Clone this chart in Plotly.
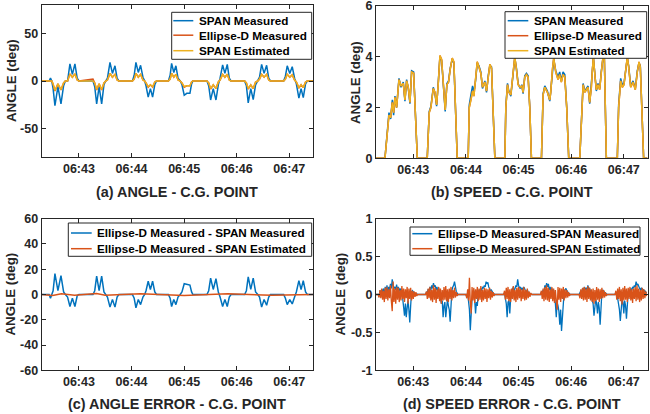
import pandas as pd
import plotly.graph_objects as go

# ---------------- data (time in seconds after 06:42:00) ----------------
X_RANGE = [137.5, 447.0]
X_TICKS = [180, 240, 300, 360, 420]
X_TICKTEXT = ["06:43", "06:44", "06:45", "06:46", "06:47"]

# (a) ANGLE
ang_t = [137.5, 146.0, 147.5, 149.0,
         150.5, 152.6, 156.0, 159.5, 162.5, 164.5, 167.0, 169.7, 172.5, 175.4, 178.0, 180.0,
         196.0, 198.0, 200.2, 203.0, 205.9, 208.5, 210.5, 212.5, 215.4, 218.2, 221.1, 223.5, 225.5,
         241.0, 243.0, 245.0, 247.7, 250.3, 253.0, 255.0, 256.5, 259.0, 261.5, 264.0, 266.5, 268.5,
         282.0, 284.0, 285.7, 288.2, 290.6, 293.0, 295.5, 297.5, 300.1, 303.0, 306.6, 308.5, 310.0,
         326.0, 328.0, 330.2, 333.2, 336.3, 339.0, 341.0, 343.9, 346.5, 349.2, 351.5, 353.5,
         369.0, 371.0, 373.1, 376.0, 378.8, 381.5, 384.0, 386.0, 388.4, 391.2, 394.1, 396.5, 398.5,
         413.5, 415.5, 417.6, 420.5, 423.3, 426.0, 428.0, 430.9, 433.4, 435.9, 438.5, 440.5,
         447.0]
ang_span_meas = [0, 0, 3, 0,
                 -8, -26, -6, -24, -5, 0, 0, 18, 7, 18, 3, 0,
                 0, -6, -24, -6, -24, -4, 0, 3, 19.5, 8, 16, 3, 0,
                 0, 6, 19.5, 9, 16.5, 4, 0, -5, -17, -8, -17, -4, 0,
                 0, 6, 18.5, 9, 16, 3, 0, -4, -15, -13, -13, -3, 0,
                 0, -5, -20, -8, -20, -4, 3, 17, 8, 17.5, 3, 0,
                 0, -5, -23, -8, -19.5, -4, 0, 4, 17.5, 8, 16.5, 3, 0,
                 0, 5, 16, 8, 15, 3, -3, -18, -8, -17.5, -3, 0,
                 0]
ang_ellipse_meas = [0, 0, 0, 0,
                    -3.5, -10.5, -3, -9.5, -2, 0, 0, 7.5, 4, 7.5, 1, 0,
                    2, -2, -9.5, -3, -9.5, -2, 0, 1, 8, 4, 7, 1, 0,
                    0, 2, 8, 4, 7, 1, 0, -2, -6.5, -4, -6.5, -1, 0,
                    0, 2, 8, 4, 7, 1, 0, -2, -6.5, -5, -5, -1, 0,
                    0, -2, -8.5, -4, -8, -1, 1, 7, 4, 7, 1, 0,
                    0, -2, -8.5, -4, -8, -1, 0, 2, 7, 4, 7, 1, 0,
                    0, 2, 7, 4, 6.5, 1, -1, -7.5, -4, -7, -1, 0,
                    0]
ang_span_est = [0, 0, 0.5, 0,
                -3, -10, -3, -9, -2, 0, 0, 7, 4, 7.5, 1, 0,
                0, -2, -9, -3, -9, -2, 0, 1, 8, 4, 7, 1, 0,
                0, 2, 8, 4, 7, 1, 0, -2, -6, -4, -6, -1, 0,
                0, 2, 8, 4, 7, 1, 0, -2, -6, -5, -5, -1, 0,
                0, -2, -8, -4, -8, -1, 1, 7, 4, 7, 1, 0,
                0, -2, -8, -4, -8, -1, 0, 2, 7, 4, 7, 1, 0,
                0, 2, 7, 4, 6.5, 1, -1, -7, -4, -7, -1, 0,
                0]

# (b) SPEED
spd_t = [137.5, 147.7, 152.3, 154.2, 156.1, 157.6, 159.1, 161.0, 163.7, 166.0, 168.6, 170.5, 172.4, 174.3, 176.2, 178.1, 180.4, 181.9, 184.6,
         195.9, 198.2, 200.1, 202.8, 204.7, 206.6, 208.5, 210.4, 212.3, 213.8, 215.3, 216.4, 218.3, 220.2, 222.1, 224.4, 226.3, 228.2, 230.1,
         242.6, 243.8, 245.7, 247.6, 249.1, 251.0, 252.9, 254.8, 257.0, 258.9, 261.6, 263.5, 265.4, 267.3, 269.2, 271.1, 273.0,
         284.4, 285.5, 287.4, 288.9, 291.2, 293.9, 295.7, 297.6, 299.5, 301.8, 303.7, 305.2, 307.1, 309.0, 310.9, 312.8, 314.7,
         326.1, 328.0, 329.9, 332.9, 335.6, 336.7, 338.6, 340.1, 342.4, 345.0, 346.9, 348.8, 350.7, 352.7, 354.9, 357.2,
         369.8, 371.7, 373.6, 375.5, 377.3, 379.2, 381.1, 383.0, 384.2, 385.3, 387.2, 388.7, 390.6, 392.5, 394.4, 396.3, 397.8, 398.9, 400.1,
         412.6, 414.1, 416.4, 418.3, 420.2, 422.1, 424.0, 425.5, 427.8, 430.5, 433.1, 435.4, 437.3, 438.8, 440.7, 442.6, 447.0]
spd_span_meas = [0, 0, 1.8, 1.55, 2.3, 1.7, 2.45, 2.0, 3.15, 2.8, 3.0, 2.25, 3.1, 2.75, 2.15, 3.45, 3.4, 2.0, 0,
                 0, 1.85, 2.05, 2.8, 2.55, 2.05, 3.0, 4.0, 3.85, 2.95, 2.35, 1.85, 2.95, 3.05, 3.55, 3.9, 3.75, 2.0, 0,
                 0, 2.1, 2.5, 2.85, 2.6, 3.05, 3.75, 3.65, 3.4, 2.75, 3.05, 2.6, 3.25, 3.65, 3.6, 2.0, 0,
                 0, 2.05, 2.95, 2.65, 2.45, 3.45, 3.95, 3.55, 2.95, 2.75, 2.9, 2.55, 3.25, 3.35, 3.25, 2.0, 0,
                 0, 2.55, 2.85, 2.65, 2.25, 2.65, 3.45, 3.9, 3.45, 3.2, 3.4, 3.05, 3.4, 3.3, 2.0, 0,
                 0, 1.85, 2.95, 2.65, 2.75, 2.85, 2.15, 2.85, 3.45, 3.95, 3.25, 2.65, 2.95, 2.75, 3.45, 3.95, 3.95, 2.0, 0,
                 0, 2.1, 3.15, 2.9, 2.95, 3.45, 3.95, 3.65, 2.85, 3.05, 2.75, 3.45, 3.75, 3.65, 2.0, 0, 0]
spd_ellipse_meas = [0, 0, 1.7, 1.6, 2.2, 1.8, 2.4, 2.0, 3.1, 2.85, 2.95, 2.3, 3.05, 2.8, 2.2, 3.4, 3.35, 2.0, 0,
                    0, 1.8, 2.0, 2.75, 2.6, 2.1, 2.95, 4.05, 3.9, 3.0, 2.4, 1.9, 2.9, 3.0, 3.5, 3.95, 3.8, 2.0, 0,
                    0, 2.0, 2.3, 2.65, 2.45, 3.0, 3.8, 3.6, 3.35, 2.8, 3.0, 2.65, 3.2, 3.7, 3.55, 2.0, 0,
                    0, 2.0, 2.9, 2.6, 2.5, 3.5, 4.0, 3.5, 2.9, 2.8, 2.85, 2.6, 3.2, 3.3, 3.2, 2.0, 0,
                    0, 2.5, 2.8, 2.6, 2.3, 2.6, 3.5, 3.95, 3.4, 3.1, 3.3, 3.0, 3.3, 3.2, 2.0, 0,
                    0, 1.8, 2.9, 2.6, 2.7, 2.8, 2.2, 2.8, 3.5, 4.0, 3.2, 2.7, 2.9, 2.7, 3.4, 4.0, 4.0, 2.0, 0,
                    0, 2.0, 3.05, 2.8, 2.9, 3.5, 4.0, 3.6, 2.8, 3.0, 2.7, 3.4, 3.8, 3.6, 2.0, 0, 0]
spd_span_est = [0, 0, 1.7, 1.6, 2.2, 1.8, 2.4, 2.0, 3.1, 2.85, 2.95, 2.3, 3.05, 2.8, 2.2, 3.4, 3.35, 2.0, 0,
                0, 1.8, 2.0, 2.75, 2.6, 2.1, 2.95, 4.05, 3.9, 3.0, 2.4, 1.9, 2.9, 3.0, 3.5, 3.95, 3.8, 2.0, 0,
                0, 2.0, 2.3, 2.65, 2.45, 3.0, 3.8, 3.6, 3.35, 2.8, 3.0, 2.65, 3.2, 3.7, 3.55, 2.0, 0,
                0, 2.0, 2.9, 2.6, 2.5, 3.5, 4.0, 3.5, 2.9, 2.8, 2.85, 2.6, 3.2, 3.3, 3.2, 2.0, 0,
                0, 2.5, 2.8, 2.6, 2.3, 2.6, 3.5, 3.95, 3.4, 3.1, 3.3, 3.0, 3.3, 3.2, 2.0, 0,
                0, 1.8, 2.9, 2.6, 2.7, 2.8, 2.2, 2.8, 3.5, 4.0, 3.2, 2.7, 2.9, 2.7, 3.4, 4.0, 4.0, 2.0, 0,
                0, 2.0, 3.05, 2.8, 2.9, 3.5, 4.0, 3.6, 2.8, 3.0, 2.7, 3.4, 3.8, 3.6, 2.0, 0, 0]

# (c) ANGLE ERROR (same time stamps as ang_t)
angerr_vs_meas = [0, 0, -3, 0,
                  3, 16.5, 3, 15, 2, 0, -2, -9.5, -3, -9.5, -1, 0,
                  0, 3, 14.5, 3, 14.5, 2, 0, -2, -10, -4, -10, -2, 0,
                  0, -3, -10.5, -4, -8, -2, 0, 3, 10.5, 4, 10.5, 2, 0,
                  0, -3, -9.5, -4, -8, -2, 0, 2, 8.5, 8, 7.5, 2, 0,
                  0, 3, 13, 4, 12.5, 2, -2, -9.5, -4, -9.5, -2, 0,
                  0, 3, 14, 4, 13, 2, 0, -2, -10, -4, -8.5, -2, 0,
                  0, -3, -8, -4, -7.5, -2, 2, 11, 4, 11, 2, 0,
                  0]
angerr_est_t = [137.5, 150.0, 160.0, 175.0, 200.0, 210.0, 250.0, 300.0, 350.0, 400.0, 447.0]
angerr_vs_est = [0, -0.8, 0.5, -0.6, 0.7, -0.5, 0.6, -0.7, 0.5, -0.6, 0]

# (d) SPEED ERROR: 1-s samples, segment start times
spderr_seg_start = [140, 194, 240, 283, 325, 369, 410]
spderr_vs_meas = [
    [0.0, -0.02, 0.05, 0.02, 0.07, 0.01, 0.08, -0.04, 0.1, 0.03,
     0.12, 0.02, 0.1, 0.05, 0.14, 0.08, 0.2, 0.12, 0.08, 0.1,
     0.06, 0.13, 0.05, 0.1, 0.04, 0.08, 0.02, 0.05, -0.05, -0.15,
     -0.28, -0.12, -0.3, -0.18, -0.08, -0.2, -0.37, -0.15, 0.03, 0.05,
     0.03, 0.02, 0.01, 0.0, 0.01, 0.0],
    [0.0, 0.03, 0.02, 0.07, 0.04, 0.1, 0.05, 0.12, 0.08, 0.15,
     0.1, 0.12, 0.06, 0.1, 0.04, 0.08, 0.02, -0.05, -0.12, -0.08,
     -0.3, -0.15, -0.1, -0.3, -0.12, -0.06, -0.15, -0.2, -0.36, -0.1,
     0.05, 0.1, 0.12, 0.17, 0.08, 0.04, 0.02, 0.0],
    [0.0, -0.03, 0.02, -0.1, -0.2, -0.47, -0.15, -0.05, 0.03, 0.05,
     -0.08, -0.25, -0.1, -0.15, 0.02, 0.06, 0.04, 0.08, 0.05, 0.1,
     0.08, 0.12, 0.1, 0.17, 0.14, 0.16, 0.1, 0.08, 0.05, 0.06,
     0.03, 0.02, 0.01, 0.0],
    [0.0, 0.02, -0.05, -0.12, -0.3, -0.1, -0.08, -0.25, -0.06, 0.04,
     0.06, 0.1, 0.05, 0.08, 0.12, 0.1, 0.2, 0.12, 0.08, 0.1,
     0.06, 0.09, 0.05, 0.1, 0.07, 0.05, 0.04, 0.06, 0.03, 0.02,
     0.01, 0.01, 0.0],
    [0.0, 0.03, 0.02, 0.06, 0.04, 0.12, 0.08, 0.15, 0.1, 0.14,
     0.06, 0.1, 0.04, 0.08, 0.03, 0.06, -0.05, -0.12, -0.3, -0.1,
     -0.15, -0.22, -0.4, -0.2, -0.48, -0.25, -0.05, 0.04, 0.06, 0.08,
     0.05, 0.03, 0.02, 0.01, 0.0],
    [0.0, 0.02, 0.05, 0.03, 0.08, 0.04, 0.1, 0.06, 0.09, 0.05,
     0.12, 0.07, 0.08, 0.04, 0.02, -0.08, -0.12, -0.28, -0.1, -0.06,
     -0.12, -0.25, -0.1, -0.18, -0.4, -0.15, 0.03, 0.06, 0.04, 0.03,
     0.02, 0.01, 0.0],
    [0.0, 0.03, 0.02, -0.05, -0.12, -0.2, -0.35, -0.12, -0.06, -0.1,
     -0.25, -0.08, -0.15, -0.32, -0.1, 0.03, 0.06, 0.04, 0.08, 0.05,
     0.1, 0.08, 0.12, 0.1, 0.17, 0.12, 0.14, 0.1, 0.08, 0.06,
     0.09, 0.05, 0.07, 0.04, 0.05, 0.03, 0.02],
]
spderr_vs_est = [
    [0.0, -0.04, 0.06, -0.05, 0.08, -0.07, 0.05, -0.1, 0.09, -0.06,
     0.1, -0.08, 0.07, -0.05, 0.12, -0.09, -0.22, 0.17, -0.1, 0.08,
     -0.12, 0.1, -0.07, 0.09, -0.1, 0.06, -0.08, 0.11, -0.06, 0.08,
     -0.1, 0.07, -0.05, 0.1, -0.12, 0.08, -0.06, 0.09, -0.08, 0.05,
     -0.06, 0.04, -0.03, 0.03, -0.02, 0.0],
    [0.0, 0.04, -0.06, 0.08, -0.05, 0.1, -0.08, 0.06, -0.1, 0.12,
     -0.07, 0.09, -0.11, 0.07, -0.06, 0.1, -0.09, 0.08, -0.12, 0.06,
     -0.08, 0.1, -0.07, 0.11, -0.09, 0.07, -0.1, 0.08, -0.06, 0.1,
     -0.08, 0.06, -0.05, 0.09, -0.04, 0.03, -0.02, 0.0],
    [0.0, -0.05, 0.07, -0.08, 0.22, -0.1, -0.25, 0.1, -0.08, 0.09,
     -0.11, 0.07, -0.06, 0.1, -0.09, 0.08, -0.07, 0.11, -0.1, 0.06,
     -0.08, 0.09, -0.06, 0.08, -0.1, 0.07, -0.05, 0.09, -0.07, 0.05,
     -0.04, 0.03, -0.02, 0.0],
    [0.0, 0.05, -0.07, 0.09, -0.06, 0.1, -0.09, 0.07, -0.1, 0.08,
     -0.06, 0.11, -0.08, 0.06, -0.1, 0.09, -0.07, 0.1, -0.05, 0.08,
     -0.09, 0.07, -0.06, 0.1, -0.08, 0.06, -0.07, 0.08, -0.05, 0.04,
     -0.03, 0.02, 0.0],
    [0.0, 0.05, -0.06, 0.08, -0.09, 0.1, -0.07, 0.12, -0.08, 0.09,
     -0.1, 0.07, -0.06, 0.1, -0.09, 0.08, -0.11, 0.06, -0.08, -0.2,
     0.1, -0.07, 0.09, -0.1, 0.08, -0.06, 0.1, -0.08, 0.07, -0.05,
     0.06, -0.04, 0.03, -0.02, 0.0],
    [0.0, -0.05, 0.07, -0.06, 0.09, -0.08, 0.1, -0.07, 0.08, -0.1,
     0.11, -0.06, 0.09, -0.08, 0.07, -0.1, 0.08, -0.12, 0.06, -0.09,
     0.1, -0.07, 0.08, -0.1, 0.07, -0.06, 0.09, -0.05, 0.06, -0.04,
     0.03, -0.02, 0.0],
    [0.0, 0.05, -0.07, 0.08, -0.06, 0.1, -0.09, 0.07, -0.13, 0.09,
     -0.08, 0.11, -0.07, 0.08, -0.1, 0.09, -0.06, 0.1, -0.08, 0.07,
     -0.11, 0.08, -0.06, 0.1, -0.09, 0.12, -0.07, 0.08, -0.1, 0.06,
     -0.08, 0.09, -0.06, 0.07, -0.05, 0.04, -0.02],
]

BLUE, RED, YELLOW = "#0072BD", "#D95319", "#EDB120"
FONT = "Liberation Sans, Arial, sans-serif"
TXT = "#262626"
W, H = 650, 414

BASE = pd.Timestamp("2000-01-01 06:42:00")


def to_time(secs):
    return [BASE + pd.Timedelta(seconds=float(s)) for s in secs]


def seg_series(starts, segs):
    ts, vs = [X_RANGE[0]], [0.0]
    for s0, vals in zip(starts, segs):
        for i, v in enumerate(vals):
            ts.append(s0 + i)
            vs.append(v)
    return ts, vs


fig = go.Figure()


def add(x, y, name, color, xa, ya, width=1.5):
    fig.add_trace(go.Scatter(x=to_time(x), y=y, name=name, mode="lines",
                             line=dict(color=color, width=width),
                             xaxis=xa, yaxis=ya, showlegend=False))


# (a)
add(ang_t, ang_span_meas, "SPAN Measured", BLUE, "x", "y")
add(ang_t, ang_ellipse_meas, "Ellipse-D Measured", RED, "x", "y")
add(ang_t, ang_span_est, "SPAN Estimated", YELLOW, "x", "y")
# (b)
add(spd_t, spd_span_meas, "SPAN Measured", BLUE, "x2", "y2")
add(spd_t, spd_ellipse_meas, "Ellipse-D Measured", RED, "x2", "y2")
add(spd_t, spd_span_est, "SPAN Estimated", YELLOW, "x2", "y2")
# (c)
add(ang_t, angerr_vs_meas, "Ellipse-D Measured - SPAN Measured", BLUE, "x3", "y3")
add(angerr_est_t, angerr_vs_est, "Ellipse-D Measured - SPAN Estimated", RED, "x3", "y3")
# (d)
tm, vm = seg_series(spderr_seg_start, spderr_vs_meas)
te, ve = seg_series(spderr_seg_start, spderr_vs_est)
add(tm, vm, "Ellipse-D Measured-SPAN Measured", BLUE, "x4", "y4", 1.3)
add(te, ve, "Ellipse-D Measured-SPAN Estimated", RED, "x4", "y4", 1.3)

XA = [41.7 / W, 313.0 / W]
XB = [376.0 / W, 647.5 / W]
YTOP_A = [1 - 157.0 / H, 1 - 5.0 / H]
YTOP_B = [1 - 158.3 / H, 1 - 6.0 / H]
YBOT = [1 - 370.3 / H, 1 - 218.7 / H]

tickfont = dict(family=FONT, size=12.5, color=TXT, weight="bold")
rng = to_time(X_RANGE)
tickx = to_time(X_TICKS)


def xaxis(domain, anchor):
    return dict(domain=domain, anchor=anchor, type="date", range=rng,
                tickvals=tickx, ticktext=X_TICKTEXT, tickfont=tickfont,
                showline=True, linecolor=TXT, linewidth=1, mirror="ticks",
                ticks="inside", ticklen=4, tickcolor=TXT, showgrid=False,
                zeroline=False, automargin=False, ticklabeloverflow="allow")


def yaxis(domain, anchor, r, vals, texts):
    return dict(domain=domain, anchor=anchor, range=r, tickvals=vals,
                ticktext=texts, tickfont=tickfont, showline=True,
                linecolor=TXT, linewidth=1, mirror="ticks", ticks="inside",
                ticklen=4, tickcolor=TXT, showgrid=False, zeroline=False,
                automargin=False, ticklabeloverflow="allow")


fig.update_layout(
    width=W, height=H, margin=dict(l=0, r=0, t=0, b=0, autoexpand=False),
    paper_bgcolor="white", plot_bgcolor="white", showlegend=False,
    xaxis=xaxis(XA, "y"), yaxis=yaxis(YTOP_A, "x", [-80, 80], [-50, 0, 50], ["-50", "0", "50"]),
    xaxis2=xaxis(XB, "y2"), yaxis2=yaxis(YTOP_B, "x2", [0, 6], [0, 2, 4, 6], ["0", "2", "4", "6"]),
    xaxis3=xaxis(XA, "y3"), yaxis3=yaxis(YBOT, "x3", [-60, 60], [-60, -40, -20, 0, 20, 40, 60],
                                          ["-60", "-40", "-20", "0", "20", "40", "60"]),
    xaxis4=xaxis(XB, "y4"), yaxis4=yaxis(YBOT, "x4", [-1, 1], [-1, -0.5, 0, 0.5, 1],
                                          ["-1", "-0.5", "0", "0.5", "1"]),
)

# ---- legends (MATLAB-style boxed legends) ----
legfont = dict(family=FONT, size=11.7, color="black", weight="bold")
legends = [
    # box (left, top, right, bottom), line x0, x1, text x, row y centers, entries
    ((171.7, 12.3, 311.7, 59.3), 173.3, 193.3, 196.7, [20.7, 35.2, 50.7],
     [("SPAN Measured", BLUE), ("Ellipse-D Measured", RED), ("SPAN Estimated", YELLOW)]),
    ((505.0, 11.7, 646.7, 58.3), 507.7, 528.3, 531.7, [20.7, 35.7, 50.7],
     [("SPAN Measured", BLUE), ("Ellipse-D Measured", RED), ("SPAN Estimated", YELLOW)]),
    ((68.3, 223.0, 311.7, 256.3), 71.0, 91.7, 95.0, [233.0, 248.7],
     [("Ellipse-D Measured - SPAN Measured", BLUE), ("Ellipse-D Measured - SPAN Estimated", RED)]),
    ((410.0, 227.0, 640.0, 255.3), 412.3, 432.3, 435.7, [233.7, 248.7],
     [("Ellipse-D Measured-SPAN Measured", BLUE), ("Ellipse-D Measured-SPAN Estimated", RED)]),
]
for (l, t, r, b), lx0, lx1, tx, rows, entries in legends:
    fig.add_shape(type="rect", xref="paper", yref="paper", x0=l / W, x1=r / W,
                  y0=1 - b / H, y1=1 - t / H, line=dict(color="#262626", width=1),
                  fillcolor="white", layer="above")
    for (label, color), ry in zip(entries, rows):
        fig.add_shape(type="line", xref="paper", yref="paper", x0=lx0 / W, x1=lx1 / W,
                      y0=1 - ry / H, y1=1 - ry / H, line=dict(color=color, width=1.5),
                      layer="above")
        fig.add_annotation(text=label, x=tx / W, y=1 - ry / H, xref="paper", yref="paper",
                           xanchor="left", yanchor="middle", showarrow=False, font=legfont)

capfont = dict(family=FONT, size=14.4, color=TXT, weight="bold")
ytfont = dict(family=FONT, size=13.3, color=TXT, weight="bold")
captions = [("(a) ANGLE - C.G. POINT", 177.4, 192.0),
            ("(b) SPEED - C.G. POINT", 511.8, 191.7),
            ("(c) ANGLE ERROR - C.G. POINT", 177.4, 403.7),
            ("(d) SPEED ERROR - C.G. POINT", 511.8, 403.7)]
for text, cx, cy in captions:
    fig.add_annotation(text=text, x=cx / W, y=1 - cy / H, xref="paper", yref="paper",
                       xanchor="center", yanchor="middle", showarrow=False, font=capfont)
ytitles = [(12.0, 81.0), (355.0, 82.0), (10.0, 294.5), (340.0, 294.5)]
for cx, cy in ytitles:
    fig.add_annotation(text="ANGLE (deg)", x=cx / W, y=1 - cy / H, xref="paper", yref="paper",
                       xanchor="center", yanchor="middle", showarrow=False, textangle=-90,
                       font=ytfont)

fig.write_html("out.html", config={"displayModeBar": False},
               post_script="document.body.style.margin='0';document.body.style.overflow='hidden';")
